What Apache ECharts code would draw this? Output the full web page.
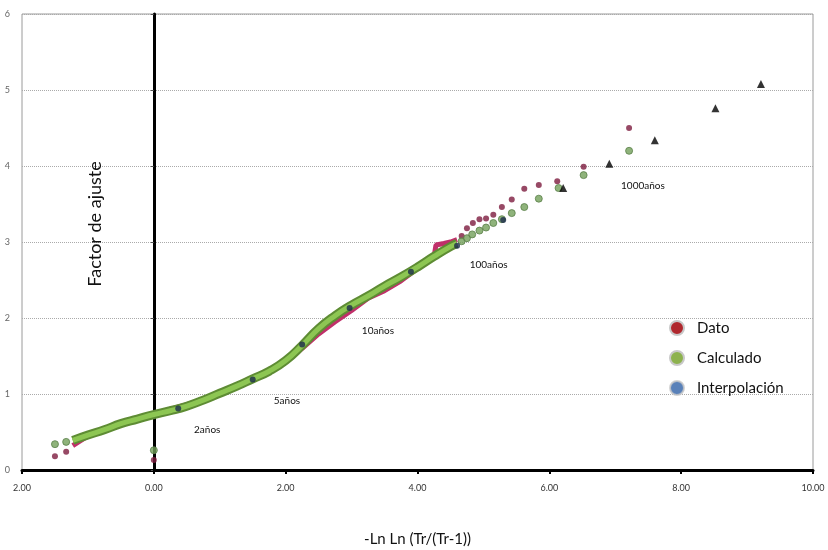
<!DOCTYPE html>
<html>
<head>
<meta charset="utf-8">
<script src="https://cdn.jsdelivr.net/npm/echarts@6/dist/echarts.min.js"></script>
<style>
  html, body { margin: 0; padding: 0; background: #fff; }
  #container { width: 828px; height: 550px; }
</style>
</head>
<body>
<div id="container"></div>
<script>
// values
const xTickLabels = ['2.00', '0.00', '2.00', '4.00', '6.00', '8.00', '10.00'];
const yTickLabels = ['0', '1', '2', '3', '4', '5', '6'];

// Calculado: dense band + separate points
const calcBandX = [-1.23, -1.0, -0.75, -0.5, -0.25, 0, 0.25, 0.5, 0.75, 1.0, 1.25, 1.5, 1.75, 2.0, 2.25, 2.5, 2.75, 3.0, 3.25, 3.5, 3.75, 4.0, 4.25, 4.5, 4.6];
const calcBandY = [0.39, 0.46, 0.53, 0.61, 0.67, 0.73, 0.78, 0.84, 0.92, 1.01, 1.10, 1.20, 1.30, 1.44, 1.64, 1.86, 2.03, 2.17, 2.29, 2.42, 2.54, 2.67, 2.81, 2.94, 2.98];
const calcDotX = [-1.5, -1.33, 0, 4.67, 4.75, 4.83, 4.94, 5.04, 5.15, 5.28, 5.43, 5.62, 5.84, 6.14, 6.52, 7.21];
const calcDotY = [0.34, 0.37, 0.26, 3.01, 3.05, 3.10, 3.15, 3.19, 3.25, 3.30, 3.38, 3.46, 3.57, 3.71, 3.88, 4.20];

// Dato: dense band + separate points
const datoBandX = [-1.23, -1.0, -0.75, -0.5, -0.25, 0, 0.25, 0.5, 0.75, 1.0, 1.25, 1.5, 1.75, 2.0, 2.25, 2.5, 2.75, 3.0, 3.25, 3.5, 3.75, 4.0, 4.25, 4.28, 4.4, 4.5, 4.6];
const datoBandY = [0.32, 0.45, 0.53, 0.62, 0.68, 0.74, 0.80, 0.86, 0.93, 1.00, 1.09, 1.18, 1.28, 1.42, 1.60, 1.79, 1.95, 2.10, 2.26, 2.36, 2.49, 2.65, 2.80, 2.96, 2.98, 3.00, 3.03];
const datoDotX = [-1.5, -1.33, 0, 4.67, 4.75, 4.84, 4.94, 5.04, 5.15, 5.28, 5.43, 5.62, 5.84, 6.12, 6.52, 7.21];
const datoDotY = [0.18, 0.24, 0.13, 3.08, 3.18, 3.25, 3.30, 3.31, 3.36, 3.46, 3.56, 3.70, 3.75, 3.80, 3.99, 4.50];

// Interpolación (return periods 2..200 años) and the triangles beyond
const interpX = [0.37, 1.50, 2.25, 2.97, 3.90, 4.60, 5.30];
const interpY = [0.81, 1.19, 1.65, 2.13, 2.61, 2.95, 3.29];
const triX = [6.21, 6.91, 7.60, 8.52, 9.21];
const triY = [3.71, 4.03, 4.34, 4.76, 5.08];

// return period notes
const noteText = ['2años', '5años', '10años', '100años', '1000años'];
const noteX = [0.81, 2.02, 3.40, 5.08, 7.42];
const noteY = [0.53, 0.91, 1.83, 2.70, 3.74];

function pairs(xs, ys) {
    return xs.map(function (x, i) { return [x, ys[i]]; });
}

const font = 'Lato, "Open Sans", sans-serif';
const chart = echarts.init(document.getElementById('container'));

chart.setOption({
    animation: false,
    backgroundColor: '#fff',
    textStyle: { fontFamily: font },
    grid: {
        left: 22, right: 15, top: 14, bottom: 80,
        outerBoundsMode: 'none', containLabel: false,
        show: true, borderColor: '#9a9a9a', borderWidth: 1
    },
    legend: {
        orient: 'vertical',
        left: 664,
        top: 315,
        itemGap: 14,
        itemWidth: 14,
        itemHeight: 14,
        icon: 'circle',
        textStyle: { fontSize: 15, color: '#111', fontFamily: font, padding: [0, 0, 0, 8] },
        data: [
            { name: 'Dato', itemStyle: { color: '#b0282e', borderColor: '#c8c8c8', borderWidth: 2 } },
            { name: 'Calculado', itemStyle: { color: '#8db24e', borderColor: '#c8c8c8', borderWidth: 2 } },
            { name: 'Interpolación', itemStyle: { color: '#2f62a8', borderColor: '#c8c8c8', borderWidth: 2 } }
        ]
    },
    xAxis: {
        type: 'value',
        min: -2,
        max: 10,
        interval: 2,
        name: '-Ln Ln (Tr/(Tr-1))',
        nameLocation: 'middle',
        nameGap: 62,
        nameTextStyle: { fontSize: 15, color: '#111', fontFamily: font },
        axisLine: { onZero: false, lineStyle: { color: '#000', width: 3 } },
        axisTick: { show: true, length: 4, lineStyle: { color: '#000', width: 2 } },
        axisLabel: {
            fontSize: 9, color: '#333', margin: 14,
            formatter: function (v) { return xTickLabels[Math.round((v + 2) / 2)]; }
        },
        splitLine: { show: false }
    },
    yAxis: {
        type: 'value',
        min: 0,
        max: 6,
        interval: 1,
        axisLine: { onZero: true, lineStyle: { color: '#000', width: 3 } },
        axisTick: { show: true, length: 3, lineStyle: { color: '#555' } },
        axisLabel: {
            fontSize: 9, color: '#666', margin: 12,
            formatter: function (v) { return yTickLabels[Math.round(v)]; }
        },
        splitLine: { show: true, lineStyle: { color: '#aaa', type: 'dotted', width: 1 } }
    },
    series: [
        {
            name: 'Dato', type: 'line', z: 2, symbol: 'none', smooth: false,
            data: pairs(datoBandX, datoBandY),
            lineStyle: { color: '#c0306a', width: 5 }, itemStyle: { color: '#c0306a' }
        },
        {
            name: 'Calculado', type: 'line', z: 3, symbol: 'none', smooth: true,
            data: pairs(calcBandX, calcBandY),
            lineStyle: { color: '#5e8c34', width: 9 }, itemStyle: { color: '#5e8c34' }
        },
        {
            name: 'Calculado', type: 'line', z: 4, symbol: 'none', smooth: true,
            data: pairs(calcBandX, calcBandY),
            lineStyle: { color: '#8dc653', width: 5 }, itemStyle: { color: '#8dc653' }
        },
        {
            name: 'Dato', type: 'scatter', z: 5, symbol: 'circle', symbolSize: 6,
            data: pairs(datoDotX, datoDotY),
            itemStyle: { color: '#7d1b3e' }
        },
        {
            name: 'Calculado', type: 'scatter', z: 6, symbol: 'circle', symbolSize: 7,
            data: pairs(calcDotX, calcDotY),
            itemStyle: { color: '#73a05a', borderColor: '#5a7f48', borderWidth: 1 }
        },
        {
            name: 'Interpolación', type: 'scatter', z: 7, symbol: 'circle', symbolSize: 6,
            data: pairs(interpX, interpY),
            itemStyle: { color: '#1b2b4c' }
        },
        {
            name: 'Extrapolación', type: 'scatter', z: 7, symbol: 'triangle', symbolSize: 8,
            data: pairs(triX, triY),
            itemStyle: { color: '#000' }
        }
    ]
});

// y axis title and return period notes
const graphics = [{
    type: 'text',
    x: 95,
    y: 224,
    rotation: Math.PI / 2,
    style: { text: 'Factor de ajuste', font: '18px ' + font, fill: '#111', textAlign: 'center', textVerticalAlign: 'middle' }
}];
noteText.forEach(function (t, i) {
    const p = chart.convertToPixel({ gridIndex: 0 }, [noteX[i], noteY[i]]);
    graphics.push({
        type: 'text', x: p[0], y: p[1],
        style: { text: t, font: '10px ' + font, fill: '#111', textAlign: 'center', textVerticalAlign: 'middle' }
    });
});
chart.setOption({ graphic: graphics });
</script>
</body>
</html>
